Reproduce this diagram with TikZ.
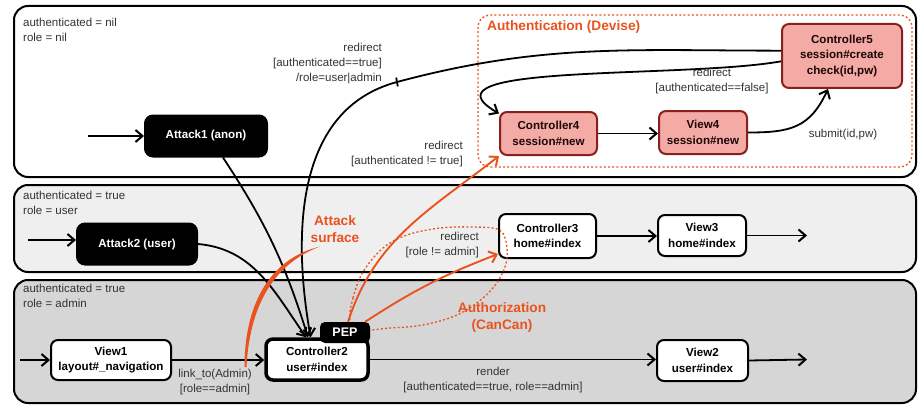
\documentclass[tikz,border=0pt]{standalone}
\usepackage{fontspec}
\setmainfont{Liberation Sans}
\usetikzlibrary{arrows.meta}
\definecolor{orng}{HTML}{E9531F}
\definecolor{pinkf}{HTML}{F4AAA5}
\definecolor{pinkd}{HTML}{8A1F1F}
\definecolor{bandA}{HTML}{EFEFEF}
\definecolor{bandB}{HTML}{D6D6D6}
\definecolor{txt}{HTML}{333333}
\tikzset{
  band/.style={draw=black, line width=2pt, rounded corners=14pt},
  nbox/.style={draw=black, line width=2pt, rounded corners=7pt, fill=white, inner sep=0pt, align=center, font=\bfseries\fontsize{11.6}{15.5}\selectfont, text=black},
  att/.style={nbox, fill=black, text=white, rounded corners=8pt},
  pk/.style={nbox, fill=pinkf, draw=pinkd, text=black!80!pinkd},
  conn/.style={draw=black, line width=1.8pt, -{Straight Barb[length=7pt,width=12pt,line width=2pt]}},
  oconn/.style={conn, draw=orng, line width=1.9pt},
  lbl/.style={font=\fontsize{11.5}{15}\selectfont, text=txt, inner sep=0pt},
  olbl/.style={font=\bfseries\fontsize{13.7}{17}\selectfont, text=orng, inner sep=0pt, align=center},
  odot/.style={draw=orng, line width=1.3pt, dash pattern=on 2pt off 2.2pt},
}
\begin{document}
\begin{tikzpicture}[x=1pt, y=1pt]
\useasboundingbox (0,0) rectangle (924,408);
% bands
\draw[band, fill=white] (14,231) rectangle (916,402);
\draw[band, fill=bandA] (14,136) rectangle (916,223);
\draw[band, fill=bandB] (14,5) rectangle (916,128);
\node[lbl, align=left, anchor=west] at (23,378) {authenticated = nil\\role = nil};
\node[lbl, align=left, anchor=west] at (23,205.5) {authenticated = true\\role = user};
\node[lbl, align=left, anchor=west] at (23,112) {authenticated = true\\role = admin};

% authentication box
\draw[odot, rounded corners=12pt] (478,241) rectangle (912,393);
\node[olbl, anchor=west] at (487,381) {Authentication (Devise)};

% nodes
\node[att, minimum width=122pt, minimum height=41pt] (Attack1) at (206,272) {Attack1 (anon)};
\node[att, minimum width=120pt, minimum height=41pt] (Attack2) at (137,164) {Attack2 (user)};
\node[nbox, minimum width=120pt, minimum height=40pt] (View1) at (111,48) {View1\\layout\#\_navigation};
\node[nbox, line width=3.5pt, minimum width=102pt, minimum height=41pt] (Controller2) at (317,48.5) {Controller2\\user\#index};
\node[nbox, minimum width=97pt, minimum height=44pt] (Controller3) at (547.5,172) {Controller3\\home\#index};
\node[nbox, minimum width=88pt, minimum height=41pt] (View3) at (702,172.5) {View3\\home\#index};
\node[nbox, minimum width=91pt, minimum height=41pt] (View2) at (702.5,47.5) {View2\\user\#index};
\node[pk, minimum width=97pt, minimum height=43pt] (Controller4) at (548.5,274.5) {Controller4\\session\#new};
\node[pk, minimum width=88pt, minimum height=43pt] (View4) at (703,275.5) {View4\\session\#new};
\node[pk, minimum width=120pt, minimum height=64pt] (Controller5) at (842,352) {Controller5\\session\#create\\check(id,pw)};

% free ends
\coordinate (in1) at (88,272);
\coordinate (in2) at (28,168);
\coordinate (in3) at (20,48);
\coordinate (out3) at (807,172.5);
\coordinate (out2) at (807,48.5);
\coordinate (tick) at (397,326);

% black connectors
\draw[conn] (in1) -- (Attack1.west);
\draw[conn] (in2) -- (in2 -| Attack2.west);
\draw[conn] (in3) -- (View1.west);
\draw[conn] (View1.east) -- (View1.east -| Controller2.west);
\draw[conn] (Controller2.east) -- (Controller2.east -| View2.west);
\draw[conn] (View2.east) -- (out2);
\draw[conn] (Controller3.east) -- (Controller3.east -| View3.west);
\draw[conn] (View3.east) -- (out3);
\draw[conn] (Controller4.east) -- (Controller4.east -| View4.west);
\draw[conn] (View4.east) to[out=0, in=-115, looseness=1.2] ([xshift=-14pt]Controller5.south);
\draw[conn] (Controller5.185) to[out=190, in=150, looseness=0.9] (Controller4.158);
\draw[conn] ([xshift=17pt]Attack1.south) to[bend left=8] (Controller2.112);
\draw[conn] (Attack2.east) to[out=-5, in=125] (Controller2.116);
\draw[line width=1.8pt] (Controller5.175) to[out=180, in=15] (tick);
\draw[conn] (tick) to[out=195, in=100] (Controller2.106);
\draw[line width=1.8pt] ([shift={(100:4.5pt)}]tick) -- ([shift={(-80:4.5pt)}]tick);

% authorization region
\draw[odot] plot[smooth cycle, tension=0.6] coordinates {(350,88) (353,110) (363,136) (383,160) (407,173) (440,180) (473,181) (497,179) (505,170) (507,150) (500,130) (483,110) (457,93) (423,83) (390,80) (360,78)};

% PEP tab
\node[fill=black, rounded corners=5pt, minimum width=50pt, minimum height=21pt, inner sep=0pt, text=white, font=\bfseries\fontsize{12.5}{14}\selectfont] (PEP) at (345,75.5) {PEP};

% orange connectors
\draw[oconn] ([xshift=3pt]PEP.north) to[out=72, in=218] (Controller4.south west);
\draw[oconn] ([xshift=-5pt]PEP.north east) to[bend left=6] (Controller3.200);

% attack surface stroke
\fill[orng] (244.5,41) .. controls (244.5,100) and (267,148.5) .. (320,161.5) .. controls (272,143.5) and (249.5,100) .. (246.5,41) -- cycle;

% labels
\node[lbl, align=right, anchor=east] at (382,344) {redirect\\{}[authenticated==true]\\/role=user|admin};
\node[lbl, align=right, anchor=east] at (463,254) {redirect\\{}[authenticated != true]};
\node[lbl, align=right, anchor=east] at (479,162.5) {redirect\\{}[role != admin]};
\node[lbl, align=center] at (712,327) {redirect\\{}[authenticated==false]};
\node[lbl] at (843,273) {submit(id,pw)};
\node[lbl, align=center] at (493,27.5) {render\\{}[authenticated==true, role==admin]};
\node[lbl, align=center] at (215,25.5) {link\_to(Admin)\\{}[role==admin]};
\node[olbl] at (335,178.5) {Attack\\surface};
\node[olbl] at (502,91) {Authorization\\(CanCan)};
\end{tikzpicture}
\end{document}
